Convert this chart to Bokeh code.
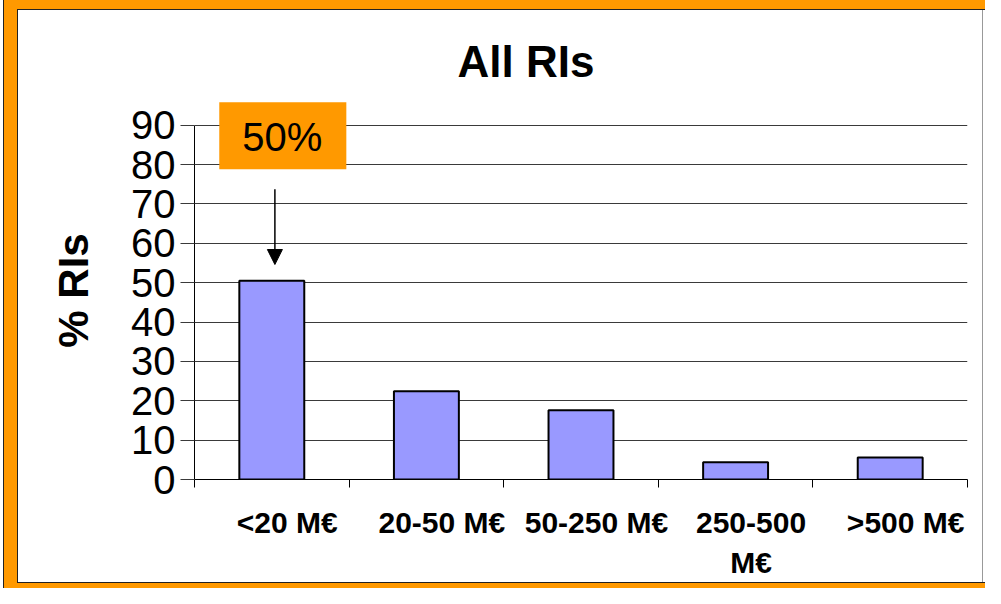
from bokeh.plotting import figure
from bokeh.models import Range1d, FixedTicker, Label, Arrow, NormalHead
from bokeh.embed import file_html
from bokeh.resources import INLINE

# ---- data ----
categories = ["<20 M€", "20-50 M€", "50-250 M€", "250-500\nM€", ">500 M€"]
values = [50.5, 22.4, 17.6, 4.4, 5.6]
y_ticks = [0, 10, 20, 30, 40, 50, 60, 70, 80, 90]
callout_text = "50%"

FONT = "Liberation Sans"
ORANGE = "#FF9900"
BAR = "#9999FF"

n = len(categories)
x_centers = [i + 0.5 for i in range(n)]
label_pos = [c + 0.1 for c in x_centers]
boundaries = list(range(n + 1))
y_axis_max = y_ticks[-1]

p = figure(width=985, height=588,
           x_range=Range1d(0, n), y_range=Range1d(0, 96),
           output_backend="svg", toolbar_location=None,
           min_border_left=194, min_border_right=18,
           min_border_top=101, min_border_bottom=109)

p.border_fill_color = None
p.background_fill_color = "white"
p.outline_line_color = None

p.styles = {
    "background-color": "white",
    "box-shadow": ", ".join([
        "inset 3px 0 0 0 white",
        "inset 4px 0 0 0 #222222",
        f"inset 17px 0 0 0 {ORANGE}",
        f"inset 0 9px 0 0 {ORANGE}",
        f"inset 0 -5px 0 0 {ORANGE}",
        "inset 18px 0 0 0 #222222",
        "inset 0 10px 0 0 #222222",
        "inset 0 -6px 0 0 #222222",
        "inset -2px 0 0 0 white",
        "inset -3px 0 0 0 #999999",
    ]),
}

# title
p.title.text = "All RIs"
p.title.text_font = FONT
p.title.text_font_size = "44px"
p.title.text_font_style = "bold"
p.title.text_color = "black"
p.title.align = "left"
p.title.offset = 263
p.title.standoff = 32

# bars
p.vbar(x=x_centers, top=values, bottom=0, width=0.42,
       fill_color=BAR, line_color="black", line_width=2)

# grid
p.xgrid.visible = False
p.ygrid.ticker = FixedTicker(ticks=y_ticks)
p.ygrid.grid_line_color = "#3a3a3a"
p.ygrid.grid_line_width = 1

# y axis
ya = p.yaxis[0]
ya.ticker = FixedTicker(ticks=y_ticks)
ya.bounds = (0, y_axis_max)
ya.axis_label = "% RIs"
ya.axis_label_text_font = FONT
ya.axis_label_text_font_size = "42px"
ya.axis_label_text_font_style = "bold"
ya.axis_label_text_color = "black"
ya.axis_label_standoff = 31
ya.major_label_text_font = FONT
ya.major_label_text_font_size = "40px"
ya.major_label_text_color = "black"
ya.major_label_standoff = 5
ya.major_tick_out = 14
ya.major_tick_in = 0
ya.major_tick_line_color = "#3a3a3a"
ya.minor_tick_line_color = None
ya.axis_line_color = "black"

# x axis
xa = p.xaxis[0]
xa.ticker = FixedTicker(ticks=label_pos, minor_ticks=boundaries)
xa.major_label_overrides = dict(zip(label_pos, categories))
xa.major_label_text_font = FONT
xa.major_label_text_font_size = "30px"
xa.major_label_text_font_style = "bold"
xa.major_label_text_color = "black"
xa.major_label_text_line_height = 1.22
xa.major_label_standoff = 18
xa.major_tick_line_color = None
xa.minor_tick_out = 8
xa.minor_tick_in = 0
xa.minor_tick_line_color = "black"
xa.axis_line_color = "black"

# callout
arrow_x = x_centers[0] + 0.02
p.add_layout(Arrow(end=NormalHead(size=15, fill_color="black", line_color="black"),
                   x_start=arrow_x, y_start=73.7, x_end=arrow_x, y_end=54.6,
                   line_color="black", line_width=1.5))
p.add_layout(Label(x=x_centers[0], y=87.3, x_offset=11, text=callout_text,
                   text_align="center", text_baseline="middle",
                   text_font=FONT, text_font_size="40px", text_color="black",
                   background_fill_color=ORANGE, padding=(23, 24, 13, 10)))

open("out.html", "w").write(file_html(p, INLINE))
